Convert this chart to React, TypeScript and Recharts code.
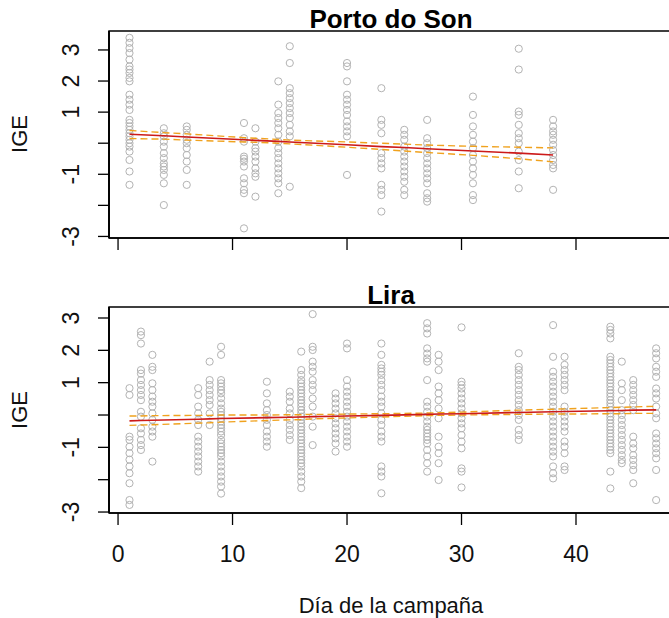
import React from 'react';
import { ScatterChart, Scatter, XAxis, YAxis, ReferenceArea } from 'recharts';

// ---------- Data ----------
const TOP_TITLE = 'Porto do Son';
const BOTTOM_TITLE = 'Lira';
const X_LABEL = 'Día de la campaña';
const Y_LABEL = 'IGE';
const X_TICKS = [0, 10, 20, 30, 40];
const Y_TICKS = [-3, -2, -1, 0, 1, 2, 3];
const Y_TICK_LABELS = ['-3', '', '-1', '', '1', '2', '3'];

const TOP_DAYS = [1, 4, 6, 11, 12, 14, 15, 20, 23, 25, 27, 31, 35, 38];
const TOP_VALUES = [
  [3.39, 3.23, 3.06, 2.9, 2.69, 2.47, 2.37, 2.26, 2.1, 1.99, 1.56, 1.4, 1.24, 1.07, 0.75, 0.65, 0.54, 0.43, 0.32, 0.22, 0.11, 0.0, -0.11, -0.27, -0.54, -0.91, -1.34],
  [0.48, 0.32, 0.22, 0.05, -0.11, -0.32, -0.48, -0.65, -0.75, -0.86, -1.02, -1.29, -1.99],
  [0.54, 0.43, 0.27, 0.11, 0.0, -0.16, -0.38, -0.59, -0.86, -1.34],
  [0.65, 0.16, 0.05, -0.43, -0.5, -0.59, -0.75, -1.13, -1.29, -1.5, -1.61, -2.74],
  [0.48, 0.05, -0.16, -0.27, -0.43, -0.59, -0.81, -0.97, -1.08, -1.72],
  [1.99, 1.24, 0.97, 0.81, 0.65, 0.48, 0.27, 0.05, -0.16, -0.32, -0.48, -0.65, -0.81, -0.97, -1.13, -1.29, -1.61],
  [3.12, 2.58, 1.77, 1.61, 1.45, 1.29, 1.13, 0.97, 0.81, 0.59, 0.38, 0.22, -1.4],
  [2.58, 2.47, 1.99, 1.56, 1.4, 1.24, 1.07, 0.91, 0.7, 0.54, 0.38, 0.22, -1.02],
  [1.77, 0.75, 0.59, 0.32, -0.32, -0.48, -0.65, -0.81, -1.34, -1.5, -1.67, -2.2],
  [0.43, 0.27, 0.11, -0.11, -0.27, -0.43, -0.59, -0.75, -0.91, -1.08, -1.24, -1.5, -1.67],
  [0.75, 0.16, 0.0, -0.16, -0.32, -0.48, -0.65, -0.81, -0.97, -1.13, -1.29, -1.61, -1.77, -1.88],
  [1.5, 0.91, 0.54, 0.27, 0.05, -0.16, -0.38, -0.59, -0.81, -1.02, -1.29, -1.67, -1.83],
  [3.04, 2.37, 1.02, 0.91, 0.59, 0.32, 0.16, 0.0, -0.27, -0.54, -0.91, -1.45],
  [0.75, 0.54, 0.38, 0.27, 0.11, -0.05, -0.22, -0.38, -0.54, -0.7, -0.81, -1.5],
];
const TOP_FIT = [0.29, 0.24, 0.2, 0.11, 0.09, 0.06, 0.04, -0.05, -0.11, -0.14, -0.18, -0.25, -0.32, -0.38];
const TOP_UPPER = [0.41, 0.34, 0.3, 0.18, 0.16, 0.12, 0.1, 0.04, 0.0, -0.03, -0.06, -0.1, -0.13, -0.15];
const TOP_LOWER = [0.15, 0.13, 0.1, 0.04, 0.03, 0.0, -0.02, -0.13, -0.2, -0.25, -0.3, -0.39, -0.5, -0.6];

const BOTTOM_DAYS = [1, 2, 3, 7, 8, 9, 13, 15, 16, 17, 19, 20, 23, 27, 28, 30, 35, 38, 39, 43, 44, 45, 47];
const BOTTOM_VALUES = [
  [0.83, 0.62, -0.67, -0.77, -0.98, -1.18, -1.38, -1.59, -1.8, -2.11, -2.63, -2.78],
  [2.58, 2.47, 2.21, 1.39, 1.28, 1.08, 0.93, 0.77, 0.62, 0.46, 0.1, -0.05, -0.41, -0.57, -0.77, -0.93, -1.08],
  [1.86, 1.49, 1.39, 0.98, 0.77, 0.57, 0.41, 0.26, 0.05, -0.15, -0.36, -0.51, -0.67, -1.44],
  [0.83, 0.62, 0.26, 0.05, -0.15, -0.31, -0.67, -0.82, -0.98, -1.13, -1.28, -1.44, -1.59, -1.75],
  [1.65, 1.08, 0.93, 0.77, 0.62, 0.46, 0.31, 0.05, -0.31],
  [2.11, 1.86, 1.08, 0.98, 0.88, 0.77, 0.67, 0.52, 0.36, 0.2, 0.1, 0.0, -0.1, -0.2, -0.31, -0.41, -0.51, -0.62, -0.77, -0.88, -0.98, -1.08, -1.18, -1.28, -1.44, -1.59, -1.75, -1.9, -2.06, -2.21, -2.43],
  [1.03, 0.67, 0.36, 0.15, 0.0, -0.15, -0.31, -0.51, -0.67, -0.82, -0.98],
  [0.72, 0.57, 0.41, 0.2, 0.05, -0.15, -0.31, -0.46, -0.62, -0.77],
  [1.96, 1.39, 1.24, 1.08, 0.98, 0.88, 0.77, 0.67, 0.57, 0.46, 0.36, 0.26, 0.15, 0.05, -0.05, -0.15, -0.26, -0.36, -0.46, -0.57, -0.67, -0.77, -0.88, -0.98, -1.08, -1.18, -1.28, -1.39, -1.49, -1.59, -1.75, -1.9, -2.06, -2.26],
  [3.12, 2.11, 2.01, 1.65, 1.49, 1.34, 1.08, 0.93, 0.77, 0.51, 0.26, -0.05, -0.36, -0.93],
  [0.67, 0.51, 0.36, 0.2, 0.05, -0.1, -0.26, -0.41, -0.57, -0.72, -0.88, -1.13],
  [2.21, 2.06, 1.08, 0.88, 0.72, 0.57, 0.41, 0.26, 0.1, -0.05, -0.2, -0.36, -0.51, -0.67, -0.82, -0.98],
  [2.21, 1.86, 1.55, 1.44, 1.34, 1.24, 1.08, 0.93, 0.77, 0.57, 0.41, 0.26, 0.05, -0.15, -0.31, -0.51, -0.67, -0.82, -1.59, -1.75, -1.9, -2.42],
  [2.84, 2.68, 2.52, 2.06, 1.9, 1.75, 1.65, 1.08, 0.41, 0.26, 0.1, -0.05, -0.2, -0.36, -0.46, -0.57, -0.67, -0.77, -0.88, -1.08, -1.28, -1.49, -1.75],
  [1.86, 1.65, 1.39, 0.88, 0.67, 0.46, 0.2, -0.1, -0.67, -0.98, -1.18, -1.49, -2.01],
  [2.71, 1.03, 0.93, 0.82, 0.67, 0.51, 0.36, 0.2, 0.05, -0.1, -0.26, -0.41, -0.62, -0.82, -1.03, -1.65, -1.75, -2.24],
  [1.91, 1.49, 1.39, 1.24, 1.08, 0.93, 0.77, 0.62, 0.46, 0.31, 0.15, 0.0, -0.15, -0.46, -0.62, -0.77],
  [2.78, 1.8, 1.34, 1.18, 1.03, 0.88, 0.72, 0.57, 0.41, 0.26, 0.1, -0.05, -0.2, -0.36, -0.51, -0.67, -0.82, -0.98, -1.13, -1.28, -1.59, -1.8, -1.96],
  [1.8, 1.55, 1.39, 1.24, 1.08, 0.93, 0.77, 0.26, 0.1, -0.05, -0.2, -0.36, -0.51, -0.82, -0.98, -1.18, -1.59, -1.7],
  [2.73, 2.63, 2.52, 2.37, 1.8, 1.7, 1.6, 1.49, 1.39, 1.29, 1.18, 1.08, 0.98, 0.88, 0.77, 0.67, 0.57, 0.46, 0.36, 0.26, 0.15, 0.05, -0.05, -0.15, -0.26, -0.36, -0.46, -0.57, -0.67, -0.77, -0.88, -0.98, -1.08, -1.18, -1.75, -2.27],
  [1.65, 0.98, 0.77, 0.46, 0.15, 0.0, -0.15, -0.31, -0.46, -0.62, -0.77, -0.93, -1.08, -1.24, -1.39, -1.49],
  [1.08, 0.93, 0.77, 0.62, 0.46, 0.31, 0.15, -0.67, -0.88, -1.03, -1.24, -1.39, -1.55, -1.7, -2.11],
  [2.06, 1.91, 1.75, 1.49, 1.34, 1.18, 0.82, 0.67, 0.51, 0.26, 0.05, -0.1, -0.57, -0.72, -0.88, -1.03, -1.18, -1.34, -1.7, -2.63],
];
const BOTTOM_FIT = [-0.18, -0.17, -0.16, -0.13, -0.12, -0.11, -0.08, -0.07, -0.06, -0.05, -0.04, -0.03, -0.01, 0.02, 0.03, 0.04, 0.08, 0.1, 0.11, 0.13, 0.14, 0.15, 0.16];
const BOTTOM_UPPER = [-0.03, -0.03, -0.02, -0.01, -0.01, 0.0, 0.0, 0.01, 0.01, 0.02, 0.02, 0.03, 0.04, 0.06, 0.07, 0.09, 0.15, 0.18, 0.19, 0.23, 0.24, 0.25, 0.27];
const BOTTOM_LOWER = [-0.32, -0.31, -0.3, -0.25, -0.24, -0.22, -0.17, -0.15, -0.14, -0.12, -0.1, -0.09, -0.06, -0.02, -0.01, 0.0, 0.02, 0.03, 0.03, 0.04, 0.04, 0.05, 0.05];

// ---------- Layout ----------
const FONT = "'Liberation Sans', Arial, Helvetica, sans-serif";
const X_DOMAIN: [number, number] = [-0.79, 48.56];
const Y_AXIS_WIDTH = 109;
const TOP_PANEL = { top: 0, marginTop: 31, height: 270, xAxisHeight: 32 };
const BOTTOM_PANEL = { top: 270, marginTop: 37, height: 313, xAxisHeight: 70 };

const toPoints = (days: number[], values: number[][]) =>
  days.flatMap((d, i) => values[i].map((v) => ({ x: d, y: v })));
const toLine = (days: number[], vals: number[]) => days.map((d, i) => ({ x: d, y: vals[i] }));

const Circle = (props: any) => {
  if (props.cx == null || props.cy == null) return <g />;
  return <circle cx={props.cx} cy={props.cy} r={3.6} fill="none" stroke="#b3b3b3" strokeWidth={1} />;
};
const NoShape = () => <g />;

const YTick = (props: any) => {
  const { y, payload } = props;
  const idx = Y_TICKS.indexOf(payload.value);
  const label = idx >= 0 ? Y_TICK_LABELS[idx] : '';
  if (!label) return <g />;
  return (
    <text
      transform={`translate(71, ${y}) rotate(-90)`}
      textAnchor="middle"
      dominantBaseline="central"
      fontFamily={FONT}
      fontSize={23}
      fill="#111"
    >
      {label}
    </text>
  );
};

type PanelProps = {
  points: { x: number; y: number }[];
  fit: { x: number; y: number }[];
  upper: { x: number; y: number }[];
  lower: { x: number; y: number }[];
  yDomain: [number, number];
  marginTop: number;
  height: number;
  xAxisHeight: number;
  showXLabels: boolean;
  labelY: number;
};

const Panel = ({ points, fit, upper, lower, yDomain, marginTop, height, xAxisHeight, showXLabels, labelY }: PanelProps) => {
  const XTick = (props: any) => {
    if (!showXLabels) return <g />;
    return (
      <text x={props.x} y={labelY} textAnchor="middle" dominantBaseline="central" fontFamily={FONT} fontSize={23} fill="#111">
        {props.payload.value}
      </text>
    );
  };
  return (
    <ScatterChart width={700} height={height} margin={{ top: marginTop, right: 26, bottom: 0, left: 0 }}>
      <XAxis
        type="number"
        dataKey="x"
        domain={X_DOMAIN}
        ticks={X_TICKS}
        allowDataOverflow
        axisLine={{ stroke: '#000', strokeWidth: 1.4 }}
        tickSize={12}
        tickLine={{ stroke: '#000', strokeWidth: 1.3 }}
        tick={XTick}
        height={xAxisHeight}
        interval={0}
      />
      <YAxis
        type="number"
        dataKey="y"
        domain={yDomain}
        ticks={Y_TICKS}
        allowDataOverflow
        axisLine={{ stroke: '#000', strokeWidth: 1.4 }}
        tickSize={11}
        tickLine={{ stroke: '#000', strokeWidth: 1.3 }}
        tick={YTick}
        width={Y_AXIS_WIDTH}
        interval={0}
      />
      <Scatter data={points} shape={Circle} isAnimationActive={false} />
      <Scatter
        data={upper}
        shape={NoShape}
        line={{ stroke: '#f0a21e', strokeWidth: 1.4, strokeDasharray: '7 4' }}
        stroke="#f0a21e"
        isAnimationActive={false}
      />
      <Scatter
        data={lower}
        shape={NoShape}
        line={{ stroke: '#f0a21e', strokeWidth: 1.4, strokeDasharray: '7 4' }}
        stroke="#f0a21e"
        isAnimationActive={false}
      />
      <Scatter
        data={fit}
        shape={NoShape}
        line={{ stroke: '#cc1a1a', strokeWidth: 1.6 }}
        stroke="#cc1a1a"
        isAnimationActive={false}
      />
      <ReferenceArea
        x1={X_DOMAIN[0]}
        x2={X_DOMAIN[1]}
        y1={yDomain[0]}
        y2={yDomain[1]}
        fill="none"
        fillOpacity={0}
        stroke="#000"
        strokeWidth={1.4}
        ifOverflow="visible"
      />
    </ScatterChart>
  );
};

export default function App() {
  const topPoints = toPoints(TOP_DAYS, TOP_VALUES);
  const bottomPoints = toPoints(BOTTOM_DAYS, BOTTOM_VALUES);
  const topPlotTop = TOP_PANEL.top + TOP_PANEL.marginTop;
  const topPlotBottom = TOP_PANEL.top + TOP_PANEL.height - TOP_PANEL.xAxisHeight;
  const botPlotTop = BOTTOM_PANEL.top + BOTTOM_PANEL.marginTop;
  const botPlotBottom = BOTTOM_PANEL.top + BOTTOM_PANEL.height - BOTTOM_PANEL.xAxisHeight;
  return (
    <div style={{ position: 'absolute', left: 0, top: 0, width: 669, height: 618, overflow: 'hidden', background: '#fff' }}>
      <div style={{ position: 'absolute', left: 0, top: TOP_PANEL.top }}>
        <Panel
          points={topPoints}
          fit={toLine(TOP_DAYS, TOP_FIT)}
          upper={toLine(TOP_DAYS, TOP_UPPER)}
          lower={toLine(TOP_DAYS, TOP_LOWER)}
          yDomain={[-3.05, 3.61]}
          marginTop={TOP_PANEL.marginTop}
          height={TOP_PANEL.height}
          xAxisHeight={TOP_PANEL.xAxisHeight}
          showXLabels={false}
          labelY={0}
        />
      </div>
      <div style={{ position: 'absolute', left: 0, top: BOTTOM_PANEL.top }}>
        <Panel
          points={bottomPoints}
          fit={toLine(BOTTOM_DAYS, BOTTOM_FIT)}
          upper={toLine(BOTTOM_DAYS, BOTTOM_UPPER)}
          lower={toLine(BOTTOM_DAYS, BOTTOM_LOWER)}
          yDomain={[-3.03, 3.34]}
          marginTop={BOTTOM_PANEL.marginTop}
          height={BOTTOM_PANEL.height}
          xAxisHeight={BOTTOM_PANEL.xAxisHeight}
          showXLabels={true}
          labelY={284}
        />
      </div>
      <svg width={669} height={618} style={{ position: 'absolute', left: 0, top: 0, pointerEvents: 'none' }}>
        <line x1={Y_AXIS_WIDTH} x2={Y_AXIS_WIDTH} y1={topPlotTop} y2={topPlotBottom} stroke="#000" strokeWidth={1.6} />
        <line x1={Y_AXIS_WIDTH} x2={Y_AXIS_WIDTH} y1={botPlotTop} y2={botPlotBottom} stroke="#000" strokeWidth={1.6} />
        <text x={391} y={28} textAnchor="middle" fontFamily={FONT} fontWeight="bold" fontSize={26} fill="#000">
          {TOP_TITLE}
        </text>
        <text x={391} y={304} textAnchor="middle" fontFamily={FONT} fontWeight="bold" fontSize={26} fill="#000">
          {BOTTOM_TITLE}
        </text>
        <text transform="translate(19, 134) rotate(-90)" textAnchor="middle" dominantBaseline="central" fontFamily={FONT} fontSize={22} fill="#111">
          {Y_LABEL}
        </text>
        <text transform="translate(19, 410) rotate(-90)" textAnchor="middle" dominantBaseline="central" fontFamily={FONT} fontSize={22} fill="#111">
          {Y_LABEL}
        </text>
        <text x={391} y={605} textAnchor="middle" dominantBaseline="central" fontFamily={FONT} fontSize={22} fill="#111">
          {X_LABEL}
        </text>
      </svg>
    </div>
  );
}
